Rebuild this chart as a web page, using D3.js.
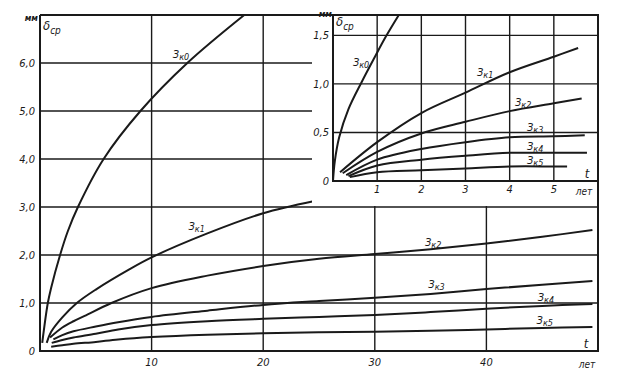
<!DOCTYPE html>
<html>
<head>
  <meta charset="utf-8">
  <title>δср - t</title>
  <script src="https://d3js.org/d3.v7.min.js"></script>
  <style>
    body { margin: 0; background: #fff; }
    text { font-family: "DejaVu Sans Condensed", "Liberation Sans Narrow", "DejaVu Sans", sans-serif; font-style: italic; fill: #1a1a1a; }
  </style>
</head>
<body>
<script type="text/javascript">
  // curves of the big chart: [t, лет ; δср, мм]
  var zk0Main = [[0.2,0.17],[0.7,1.0],[1.0,1.32],[1.8,2.0],[2.5,2.5],[3.4,3.0],[5.7,4.0],[9.0,5.0],[13.2,6.0],[18.3,7.0]];
  var zk1Main = [[0.6,0.17],[1,0.4],[2,0.7],[3.3,1.0],[5,1.28],[8,1.7],[10,1.95],[15,2.45],[20,2.87],[24.5,3.12]];
  var zk2Main = [[0.9,0.28],[2,0.49],[3,0.62],[4,0.73],[6.4,1.0],[10,1.31],[15,1.57],[20,1.77],[25,1.92],[30,2.02],[35,2.12],[40,2.24],[45,2.38],[49.5,2.52]];
  var zk3Main = [[1.2,0.24],[2,0.33],[3,0.41],[5,0.51],[7,0.6],[10,0.71],[15,0.84],[20,0.96],[25,1.04],[30,1.11],[35,1.19],[40,1.29],[45,1.38],[49.5,1.46]];
  var zk4Main = [[1.05,0.17],[2,0.23],[3,0.28],[5,0.36],[7,0.45],[10,0.54],[15,0.62],[20,0.67],[25,0.71],[30,0.75],[35,0.81],[40,0.88],[45,0.94],[49.5,0.98]];
  var zk5Main = [[1.0,0.09],[2,0.12],[3,0.15],[5,0.19],[7,0.24],[10,0.29],[15,0.34],[20,0.37],[25,0.39],[30,0.4],[35,0.42],[40,0.45],[45,0.48],[49.5,0.5]];

  // curves of the small chart (first years)
  var zk0Ins = [[0,0],[0.04,0.2],[0.14,0.45],[0.35,0.74],[0.65,1.02],[0.95,1.28],[1.2,1.49],[1.49,1.71]];
  var zk1Ins = [[0.16,0.09],[1,0.4],[2,0.7],[3,0.91],[4,1.12],[5,1.28],[5.55,1.37]];
  var zk2Ins = [[0.22,0.08],[1,0.3],[2,0.49],[3,0.61],[4,0.72],[5,0.8],[5.63,0.85]];
  var zk3Ins = [[0.3,0.06],[1,0.22],[2,0.33],[3,0.4],[4,0.45],[5,0.46],[5.7,0.47]];
  var zk4Ins = [[0.35,0.05],[1,0.16],[2,0.22],[3,0.26],[4,0.29],[5,0.29],[5.75,0.29]];
  var zk5Ins = [[0.38,0.04],[1,0.09],[2,0.11],[3,0.13],[4,0.15],[5,0.15],[5.3,0.15]];

  var curveNames = ["к0","к1","к2","к3","к4","к5"];
  // where each curve name sits, in data units
  var mainLabelPos = [[11.9,6.1],[13.3,2.52],[34.5,2.19],[34.8,1.31],[44.6,1.04],[44.5,0.56]];
  var insLabelPos = [[0.45,1.18],[3.26,1.08],[4.12,0.77],[4.39,0.52],[4.39,0.32],[4.39,0.18]];

  var mainXTicks = [10,20,30,40];
  var mainYTicks = [0,1,2,3,4,5,6];
  var mainYLabels = ["0","1,0","2,0","3,0","4,0","5,0","6,0"];
  var insXTicks = [1,2,3,4,5];
  var insYTicks = [0,0.5,1,1.5];
  var insYLabels = ["0","0,5","1,0","1,5"];

  var w = 624, h = 374;
  var ink = "#1a1a1a";

  var svg = d3.select("body").append("svg")
    .attr("width", w)
    .attr("height", h);

  var x = d3.scaleLinear().domain([0, 50]).range([40, 598]);
  var y = d3.scaleLinear().domain([0, 7]).range([351, 15]);

  // inset sits on the top right, down to the 3,0 line
  var xi = d3.scaleLinear().domain([0, 6]).range([333, 598]);
  var yi = d3.scaleLinear().domain([0, 1.71]).range([181, 15]);
  var insBoxLeft = 312;

  var line = d3.line().curve(d3.curveCatmullRom.alpha(0.5))
    .x(function(d){ return x(d[0]); })
    .y(function(d){ return y(d[1]); });
  var lineIns = d3.line().curve(d3.curveCatmullRom.alpha(0.5))
    .x(function(d){ return xi(d[0]); })
    .y(function(d){ return yi(d[1]); });

  //grid of the big chart
  svg.selectAll(".gx").data(mainXTicks).enter().append("line")
    .attr("x1", d => x(d)).attr("x2", d => x(d))
    .attr("y1", y(0)).attr("y2", y(7))
    .attr("stroke", ink).attr("stroke-width", 1.4);
  svg.selectAll(".gy").data(mainYTicks.slice(1)).enter().append("line")
    .attr("x1", x(0)).attr("x2", x(50))
    .attr("y1", d => y(d)).attr("y2", d => y(d))
    .attr("stroke", ink).attr("stroke-width", 1.4);

  var mainCurves = [zk0Main, zk1Main, zk2Main, zk3Main, zk4Main, zk5Main];
  svg.selectAll(".cm").data(mainCurves).enter().append("path")
    .attr("d", line)
    .attr("fill", "none")
    .attr("stroke", ink)
    .attr("stroke-width", 2);

  // white box for the inset
  svg.append("rect")
    .attr("x", insBoxLeft).attr("y", y(7) - 1)
    .attr("width", x(50) - insBoxLeft).attr("height", y(3) - y(7))
    .attr("fill", "#fff");

  //frame of the big chart
  svg.append("path")
    .attr("d", "M" + x(0) + "," + y(7) + "V" + y(0) + "H" + x(50) + "V" + y(7) + "H" + x(0))
    .attr("fill", "none").attr("stroke", ink).attr("stroke-width", 2);

  // inset grid and axes
  svg.selectAll(".igx").data(insXTicks).enter().append("line")
    .attr("x1", d => xi(d)).attr("x2", d => xi(d))
    .attr("y1", yi(0)).attr("y2", y(7))
    .attr("stroke", ink).attr("stroke-width", 1.4);
  svg.selectAll(".igy").data(insYTicks.slice(1)).enter().append("line")
    .attr("x1", xi(0)).attr("x2", x(50))
    .attr("y1", d => yi(d)).attr("y2", d => yi(d))
    .attr("stroke", ink).attr("stroke-width", 1.4);
  svg.append("path")
    .attr("d", "M" + xi(0) + "," + y(7) + "V" + yi(0) + "H" + x(50))
    .attr("fill", "none").attr("stroke", ink).attr("stroke-width", 2);

  var insCurves = [zk0Ins, zk1Ins, zk2Ins, zk3Ins, zk4Ins, zk5Ins];
  svg.selectAll(".ci").data(insCurves).enter().append("path")
    .attr("d", lineIns)
    .attr("fill", "none")
    .attr("stroke", ink)
    .attr("stroke-width", 2);

  // tick labels
  svg.selectAll(".ly").data(mainYTicks).enter().append("text")
    .attr("x", 35).attr("y", d => y(d) + 4)
    .attr("text-anchor", "end").attr("font-size", 11)
    .text((d, i) => mainYLabels[i]);
  svg.selectAll(".lx").data(mainXTicks).enter().append("text")
    .attr("x", d => x(d)).attr("y", 366)
    .attr("text-anchor", "middle").attr("font-size", 11)
    .text(d => d);
  svg.selectAll(".liy").data(insYTicks).enter().append("text")
    .attr("x", 329).attr("y", d => yi(d) + 4)
    .attr("text-anchor", "end").attr("font-size", 11)
    .text((d, i) => insYLabels[i]);
  svg.selectAll(".lix").data(insXTicks).enter().append("text")
    .attr("x", d => xi(d)).attr("y", 193)
    .attr("text-anchor", "middle").attr("font-size", 11)
    .text(d => d);

  // axis titles
  function delta(px, py, size) {
    var t = svg.append("text").attr("x", px).attr("y", py).attr("font-size", size);
    t.append("tspan").text("δ");
    t.append("tspan").attr("dy", 4).attr("font-size", size - 3).text("ср");
  }
  svg.append("text").attr("x", 38).attr("y", 21).attr("text-anchor", "end")
    .attr("font-size", 9).attr("font-weight", "bold").text("мм");
  delta(43, 30, 13);
  svg.append("text").attr("x", 332).attr("y", 17).attr("text-anchor", "end")
    .attr("font-size", 9).attr("font-weight", "bold").text("мм");
  delta(336, 26, 13);

  svg.append("text").attr("x", 586).attr("y", 348).attr("text-anchor", "middle").attr("font-size", 13).text("t");
  svg.append("text").attr("x", 587).attr("y", 368).attr("text-anchor", "middle").attr("font-size", 10).text("лет");
  svg.append("text").attr("x", 587).attr("y", 178).attr("text-anchor", "middle").attr("font-size", 13).text("t");
  svg.append("text").attr("x", 584).attr("y", 195).attr("text-anchor", "middle").attr("font-size", 10).text("лет");

  // curve names З_к0 ... З_к5
  function curveLabel(px, py, name) {
    var t = svg.append("text").attr("x", px).attr("y", py).attr("font-size", 11);
    t.append("tspan").text("З");
    t.append("tspan").attr("dy", 2).attr("font-size", 9).text(name);
  }
  mainLabelPos.forEach(function(p, i){ curveLabel(x(p[0]), y(p[1]), curveNames[i]); });
  insLabelPos.forEach(function(p, i){ curveLabel(xi(p[0]), yi(p[1]), curveNames[i]); });
</script>
</body>
</html>
